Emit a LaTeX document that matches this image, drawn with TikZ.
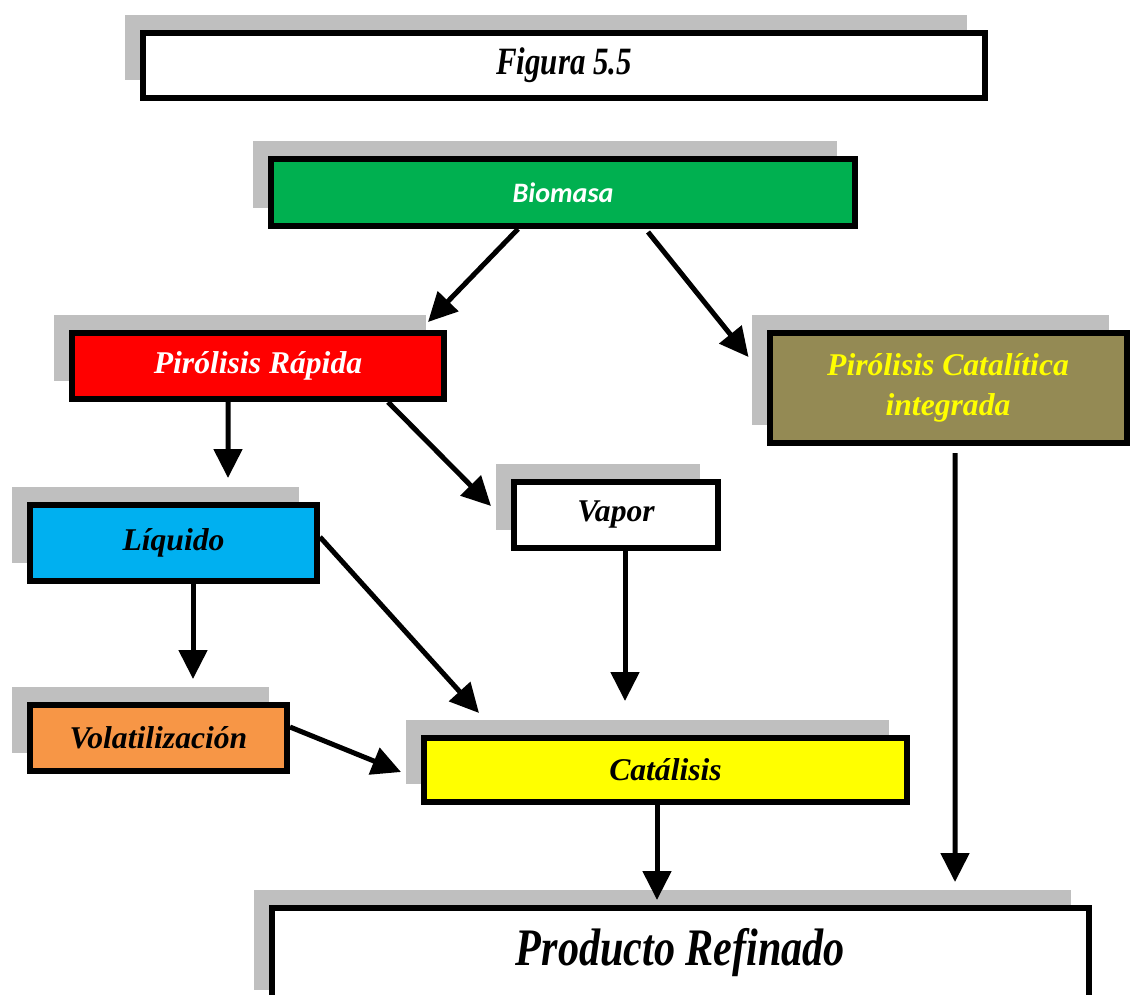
\documentclass[tikz,border=0pt]{standalone}
\usepackage{fontspec}
\setmainfont{Liberation Serif}
\newfontfamily\calfont{Carlito}
\newfontfamily\narrowfont[FakeStretch=0.8]{Liberation Serif}
\usetikzlibrary{arrows.meta,calc,shadows}
\definecolor{sombra}{HTML}{BFBFBF}
\definecolor{verde}{HTML}{00B050}
\definecolor{rojo}{HTML}{FF0000}
\definecolor{oliva}{HTML}{948A54}
\definecolor{celeste}{HTML}{00B0F0}
\definecolor{naranja}{HTML}{F79646}
\definecolor{amarillo}{HTML}{FFFF00}
\tikzset{
  etapa/.style={draw=black,line width=1.2mm,fill=white,align=center,inner sep=0pt,font=\fontsize{18}{23}\selectfont\bfseries\itshape,general shadow={fill=sombra,shadow xshift=-3.6mm,shadow yshift=3.6mm}},
  ancho/.style={font=\narrowfont\fontsize{#1}{#1}\selectfont\bfseries\itshape},
  arr/.style={-{Triangle[length=5.8mm,width=5.6mm]},line width=1mm}
}

\begin{document}
\begin{tikzpicture}[x=0.2mm,y=-0.2mm]
        \useasboundingbox (0,0) rectangle (1130,994);
        \node[etapa,ancho=22,minimum width=168.4mm,minimum height=13mm] (fig) at (564,65) {Figura 5.5};
        \node[etapa,fill=verde,text=white,font=\calfont\fontsize{16}{19}\selectfont\bfseries\itshape,minimum width=116.8mm,minimum height=13.4mm] (bio) at (563,192.5) {Biomasa};
        \node[etapa,fill=rojo,text=white,minimum width=74.4mm,minimum height=13.2mm] (pr) at (258,366) {Pirólisis Rápida};
        \node[etapa,fill=oliva,text=amarillo,minimum width=71.4mm,minimum height=22mm] (pc) at (948,388) {Pirólisis Catalítica\\integrada};
        \node[etapa,minimum width=40.8mm,minimum height=13.2mm] (vap) at (616,515) {Vapor};
        \node[etapa,fill=celeste,minimum width=57.4mm,minimum height=15.2mm] (liq) at (173.5,543) {Líquido};
        \node[etapa,fill=naranja,minimum width=51.4mm,minimum height=13.2mm] (vol) at (158.5,738) {Volatilización};
        \node[etapa,fill=amarillo,minimum width=96.6mm,minimum height=12.8mm] (cat) at (665.5,770) {Catálisis};
        \node[etapa,ancho=30,text height=8mm,text depth=5mm,minimum width=163.4mm,minimum height=20mm] (prod) at (680.5,958) {Producto Refinado};
        \draw[arr] ($(bio.south)+(-45,0)$) -- ($(pr.north east)+(-19,-8)$);
        \draw[arr] ($(bio.south)+(85,3)$) -- ($(pc.north west)+(-18,27)$);
        \draw[arr] ($(pr.south)+(-30,0)$) -- ($(liq.north)+(54.5,-24)$);
        \draw[arr] ($(pr.south east)+(-59,0)$) -- ($(vap.west)+(-20,-9)$);
        \draw[arr] ($(liq.south)+(19.5,0)$) -- ($(vol.north)+(34.5,-23)$);
        \draw[arr] ($(liq.east)+(0,-6)$) -- ($(cat.north west)+(58,-22)$);
        \draw[arr] ($(vap.south)+(9,0)$) -- ($(cat.north)+(-40.5,-34)$);
        \draw[arr] ($(vol.east)+(0,-11)$) -- ($(cat.west)+(-20,2)$);
        \draw[arr] ($(cat.south)+(-8.5,0)$) -- ($(prod.north)+(-23.5,-5)$);
        \draw[arr] ($(pc.south)+(7,7)$) -- ($(prod.north east)+(-137,-23)$);
      \end{tikzpicture}
\end{document}
